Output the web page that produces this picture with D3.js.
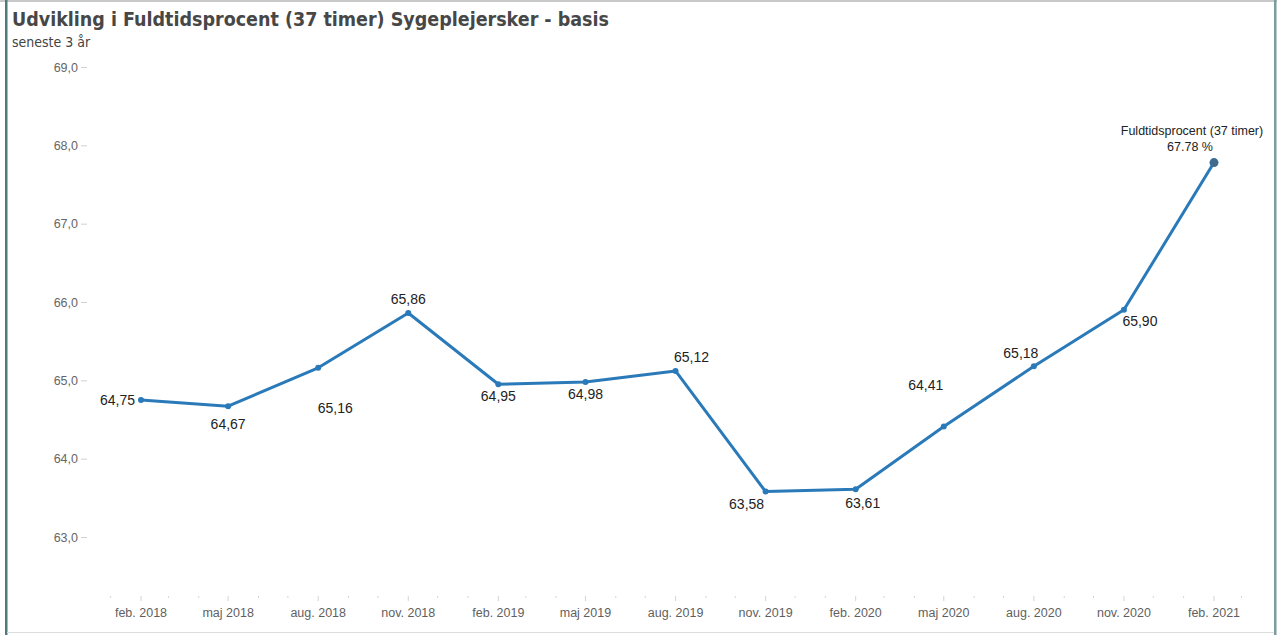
<!DOCTYPE html>
<html>
<head>
<meta charset="utf-8">
<script src="https://cdn.jsdelivr.net/npm/d3@7"></script>
<style>
  body { margin: 0; background: #fff; }
  svg { display: block; }
</style>
</head>
<body>
<svg id="chart" width="1277" height="635"></svg>
<script>
// quarterly data, values in %
const months = ["2018-02", "2018-05", "2018-08", "2018-11", "2019-02", "2019-05", "2019-08",
                "2019-11", "2020-02", "2020-05", "2020-08", "2020-11", "2021-02"];
const values = [64.75, 64.67, 65.16, 65.86, 64.95, 64.98, 65.12, 63.58, 63.61, 64.41, 65.18, 65.90, 67.78];
const yTicks = [63, 64, 65, 66, 67, 68, 69];
const monthNames = ["jan.", "feb.", "mar.", "apr.", "maj", "jun.", "jul.", "aug.", "sep.", "okt.", "nov.", "dec."];

// where each value label sits relative to its point
const labelOffsets = [[-6, 5, "end"], [0, 23, "middle"], [17, 45, "middle"], [0, -9, "middle"],
                      [0, 17, "middle"], [0, 17, "middle"], [16, -9, "middle"], [-19, 17, "middle"],
                      [7, 19, "middle"], [-18, -37, "middle"], [-13, -8, "middle"], [16, 16, "middle"]];

const svg = d3.select("#chart");
const parse = d3.timeParse("%Y-%m");
const data = months.map((m, i) => ({ date: parse(m), value: values[i] }));

// frame
svg.append("rect").attr("x", 0).attr("y", 0).attr("width", 1277).attr("height", 2).attr("fill", "#c8c8c8");
svg.append("rect").attr("x", 5).attr("y", 0).attr("width", 2.5).attr("height", 635).attr("fill", "#4d7b7d");
svg.append("rect").attr("x", 1274).attr("y", 0).attr("width", 2.5).attr("height", 635).attr("fill", "#7c9c9e");
svg.append("rect").attr("x", 7).attr("y", 632).attr("width", 1267).attr("height", 1).attr("fill", "#dcdcdc");

svg.append("text")
    .attr("x", 12).attr("y", 26)
    .attr("font-family", "'DejaVu Sans Condensed', sans-serif")
    .attr("font-size", 19.5)
    .attr("font-weight", "bold")
    .attr("fill", "#474747")
    .attr("textLength", 597)
    .text("Udvikling i Fuldtidsprocent (37 timer) Sygeplejersker - basis");

svg.append("text")
    .attr("x", 12).attr("y", 47)
    .attr("font-family", "'DejaVu Sans Condensed', sans-serif")
    .attr("font-size", 14)
    .attr("fill", "#444")
    .text("seneste 3 år");

const x = d3.scaleTime()
    .domain([parse("2018-02"), parse("2021-02")])
    .range([141, 1214]);

const y = d3.scaleLinear()
    .domain([63, 69])
    .range([537, 67]);

// y axis
const yAxis = svg.append("g")
    .attr("transform", "translate(87,0)")
    .call(d3.axisLeft(y).tickValues(yTicks).tickSize(6).tickPadding(3)
        .tickFormat(d => d3.format(".1f")(d).replace(".", ",")));
yAxis.select(".domain").remove();
yAxis.selectAll(".tick line").attr("stroke", "#d0d0d0");
yAxis.selectAll(".tick text")
    .attr("font-family", "'Liberation Sans', Arial, sans-serif")
    .attr("font-size", 12.5)
    .attr("fill", "#666");

// x axis: monthly minor ticks, quarterly labels
const allMonths = d3.timeMonth.range(parse("2018-01"), parse("2021-04"));
const xg = svg.append("g").attr("transform", "translate(0,596)");
xg.selectAll("line.minor")
    .data(allMonths)
    .join("line")
    .attr("x1", d => x(d)).attr("x2", d => x(d))
    .attr("y1", 0)
    .attr("y2", d => months.includes(d3.timeFormat("%Y-%m")(d)) ? 5 : 2)
    .attr("stroke", "#d4d4d4");
xg.selectAll("text")
    .data(data)
    .join("text")
    .attr("x", d => x(d.date))
    .attr("y", 21)
    .attr("text-anchor", "middle")
    .attr("font-family", "'Liberation Sans', Arial, sans-serif")
    .attr("font-size", 12.5)
    .attr("fill", "#5f5f5f")
    .text(d => monthNames[d.date.getMonth()] + " " + d.date.getFullYear());

// line
const line = d3.line().x(d => x(d.date)).y(d => y(d.value));
svg.append("path")
    .datum(data)
    .attr("d", line)
    .attr("fill", "none")
    .attr("stroke", "#2a7ab9")
    .attr("stroke-width", 3)
    .attr("stroke-linejoin", "round");

svg.selectAll("circle.pt")
    .data(data.slice(0, -1))
    .join("circle")
    .attr("class", "pt")
    .attr("cx", d => x(d.date))
    .attr("cy", d => y(d.value))
    .attr("r", 3)
    .attr("fill", "#2a7ab9");

const last = data[data.length - 1];
svg.append("circle")
    .attr("cx", x(last.date)).attr("cy", y(last.value))
    .attr("r", 4.5)
    .attr("fill", "#3e6a8e");

// value labels
svg.selectAll("text.val")
    .data(data.slice(0, -1))
    .join("text")
    .attr("class", "val")
    .attr("x", (d, i) => x(d.date) + labelOffsets[i][0])
    .attr("y", (d, i) => y(d.value) + labelOffsets[i][1])
    .attr("text-anchor", (d, i) => labelOffsets[i][2])
    .attr("font-family", "'Liberation Sans', Arial, sans-serif")
    .attr("font-size", 14)
    .attr("fill", "#222")
    .text(d => d3.format(".2f")(d.value).replace(".", ","));

svg.append("text")
    .attr("x", x(last.date) - 22).attr("y", y(last.value) - 28)
    .attr("text-anchor", "middle")
    .attr("font-family", "'Liberation Sans', Arial, sans-serif")
    .attr("font-size", 12.5)
    .attr("fill", "#222")
    .text("Fuldtidsprocent (37 timer)");
svg.append("text")
    .attr("x", x(last.date) - 24).attr("y", y(last.value) - 12)
    .attr("text-anchor", "middle")
    .attr("font-family", "'Liberation Sans', Arial, sans-serif")
    .attr("font-size", 12.5)
    .attr("fill", "#222")
    .text(d3.format(".2f")(last.value) + " %");
</script>
</body>
</html>
